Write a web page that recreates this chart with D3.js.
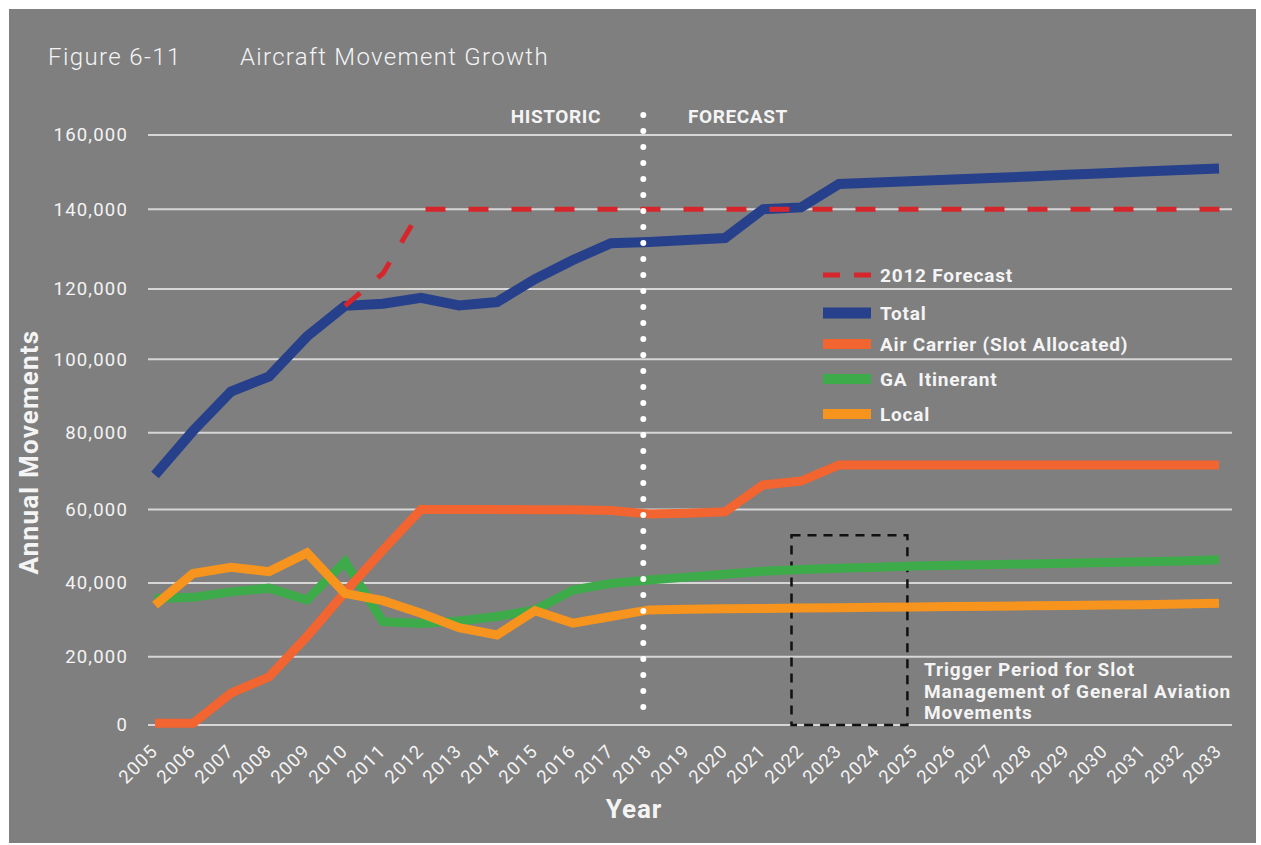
<!DOCTYPE html>
<html>
<head>
<meta charset="utf-8">
<title>Aircraft Movement Growth</title>
<script src="https://cdn.jsdelivr.net/npm/d3@7"></script>
<style>
  body { margin: 0; background: #ffffff; }
  svg text { font-family: Roboto, "Noto Sans", sans-serif; fill: #f4f4f4; white-space: pre; }
  .tick-label { font-size: 18.5px; letter-spacing: 1.2px; }
  .legend text { font-size: 19px; font-weight: bold; letter-spacing: 0.8px; }
</style>
</head>
<body>
<div id="chart"></div>
<script>
// ---- data ----
var years = [2005, 2006, 2007, 2008, 2009, 2010, 2011, 2012, 2013, 2014, 2015, 2016, 2017, 2018, 2019,
             2020, 2021, 2022, 2023, 2024, 2025, 2026, 2027, 2028, 2029, 2030, 2031, 2032, 2033];
var total = [69000, 80500, 91200, 95300, 106500, 115200, 115800, 117500, 115300, 116300, 122500, 127300, 131500, 131800, 132300,
             132800, 140000, 140500, 146800, 147200, 147600, 148000, 148400, 148800, 149300, 149700, 150200, 150600, 151000];
var airCarrier = [500, 500, 9300, 14100, 25500, 37500, 49000, 60000, 60000, 60000, 59900, 59900, 59700, 58800, 59000,
                  59400, 66400, 67400, 71600, 71600, 71600, 71600, 71600, 71600, 71600, 71600, 71600, 71600, 71600];
var gaItinerant = [35800, 36100, 37600, 38600, 35400, 45800, 29500, 29000, 29700, 30900, 32700, 38100, 39900, 40800, 41600,
                   42400, 43200, 43700, 44000, 44300, 44600, 44800, 45000, 45200, 45400, 45600, 45800, 46000, 46300];
var local = [34000, 42600, 44300, 43100, 48200, 37200, 35200, 31800, 27900, 25900, 32500, 29100, 30900, 32700, 32900,
             33000, 33100, 33200, 33300, 33400, 33500, 33600, 33700, 33800, 33900, 34000, 34100, 34300, 34500];
var forecastYears = [2010, 2011, 2012, 2033.45];
var forecast = [115200, 123900, 140000, 140000];
var yTicks = [0, 20000, 40000, 60000, 80000, 100000, 120000, 140000, 160000];
var dividerYear = 2017.85;
var triggerYears = [2021.75, 2024.8];
var triggerTop = 53000;

var seriesNames = ["2012 Forecast", "Total", "Air Carrier (Slot Allocated)", "GA  Itinerant", "Local"];
var seriesColors = ["#d7262b", "#27408b", "#f26430", "#3dab4a", "#f7941d"];

// ---- layout ----
var W = 1261, H = 845;
var svg = d3.select("#chart").append("svg")
    .attr("width", W)
    .attr("height", H);

svg.append("rect")
    .attr("x", 9).attr("y", 9)
    .attr("width", 1247).attr("height", 834)
    .attr("fill", "#7f7f7f");

var x = d3.scaleLinear().domain([2005, 2033]).range([155, 1219]);
// gridlines in the source are not quite evenly spaced, so map each tick to its row
var y = d3.scaleLinear().domain(yTicks)
    .range([725, 656.7, 583, 509.5, 432.7, 359.3, 289, 209.3, 135]);

var gridLeft = 148, gridRight = 1232;

// gridlines
svg.append("g").selectAll("line")
    .data(yTicks)
    .enter().append("line")
    .attr("x1", gridLeft).attr("x2", gridRight)
    .attr("y1", function (d) { return y(d); })
    .attr("y2", function (d) { return y(d); })
    .attr("stroke", "#d6d6d6")
    .attr("stroke-width", 2);

// y tick labels
svg.append("g").selectAll("text")
    .data(yTicks)
    .enter().append("text")
    .attr("class", "tick-label")
    .attr("x", 128)
    .attr("y", function (d) { return y(d); })
    .attr("dy", "0.35em")
    .attr("text-anchor", "end")
    .text(function (d) { return d3.format(",")(d); });

// x tick labels, rotated
svg.append("g").selectAll("text")
    .data(years)
    .enter().append("text")
    .attr("class", "tick-label")
    .attr("text-anchor", "end")
    .attr("transform", function (d) { return "translate(" + (x(d) + 4) + ",752) rotate(-45)"; })
    .text(function (d) { return d; });

// axis titles
svg.append("text")
    .attr("x", 634).attr("y", 818)
    .attr("text-anchor", "middle")
    .attr("font-size", 26).attr("font-weight", "bold")
    .attr("letter-spacing", 1)
    .text("Year");

svg.append("text")
    .attr("transform", "translate(38,452) rotate(-90)")
    .attr("text-anchor", "middle")
    .attr("font-size", 26).attr("font-weight", "bold")
    .attr("letter-spacing", 1.2)
    .text("Annual Movements");

// title
svg.append("text")
    .attr("x", 48).attr("y", 65)
    .attr("font-size", 24)
    .attr("font-weight", 300)
    .attr("letter-spacing", 1.4)
    .text("Figure 6-11");
svg.append("text")
    .attr("x", 240).attr("y", 65)
    .attr("font-size", 24)
    .attr("font-weight", 300)
    .attr("letter-spacing", 1.3)
    .text("Aircraft Movement Growth");

// trigger period box
svg.append("rect")
    .attr("x", x(triggerYears[0]))
    .attr("y", y(triggerTop))
    .attr("width", x(triggerYears[1]) - x(triggerYears[0]))
    .attr("height", y(0) - y(triggerTop))
    .attr("fill", "none")
    .attr("stroke", "#111")
    .attr("stroke-width", 2.5)
    .attr("stroke-dasharray", "9,7");

var trig = svg.append("text")
    .attr("x", 924).attr("y", 676)
    .attr("font-size", 19).attr("font-weight", "bold")
    .attr("letter-spacing", 0.9);
["Trigger Period for Slot", "Management of General Aviation", "Movements"].forEach(function (t, i) {
    trig.append("tspan").attr("x", 924).attr("dy", i === 0 ? 0 : 21.5).text(t);
});

// lines
var line = function (vals) {
    return d3.line()
        .x(function (d, i) { return x(years[i]); })
        .y(function (d) { return y(d); })(vals);
};

function drawSeries(vals, color, width) {
    svg.append("path")
        .attr("d", line(vals))
        .attr("fill", "none")
        .attr("stroke", color)
        .attr("stroke-width", width)
        .attr("stroke-linejoin", "miter");
}

drawSeries(gaItinerant, seriesColors[3], 9);
drawSeries(airCarrier, seriesColors[2], 9);
drawSeries(local, seriesColors[4], 9);
drawSeries(total, seriesColors[1], 10);

svg.append("path")
    .attr("d", d3.line()
        .x(function (d, i) { return x(forecastYears[i]); })
        .y(function (d) { return y(d); })(forecast))
    .attr("fill", "none")
    .attr("stroke", seriesColors[0])
    .attr("stroke-width", 5)
    .attr("stroke-dasharray", "20,23");

// historic / forecast divider
svg.append("line")
    .attr("x1", x(dividerYear)).attr("x2", x(dividerYear))
    .attr("y1", 115).attr("y2", 722)
    .attr("stroke", "#ffffff")
    .attr("stroke-width", 6)
    .attr("stroke-linecap", "round")
    .attr("stroke-dasharray", "0,16");

svg.append("text")
    .attr("x", 601).attr("y", 123)
    .attr("text-anchor", "end")
    .attr("font-size", 19).attr("font-weight", "bold")
    .attr("letter-spacing", 0.6)
    .text("HISTORIC");
svg.append("text")
    .attr("x", 688).attr("y", 123)
    .attr("font-size", 19).attr("font-weight", "bold")
    .attr("letter-spacing", 0.6)
    .text("FORECAST");

// legend
var legendY = [275, 313, 344, 379, 414];
var legend = svg.append("g").attr("class", "legend");
seriesNames.forEach(function (name, i) {
    var row = legend.append("g").attr("transform", "translate(0," + legendY[i] + ")");
    row.append("line")
        .attr("x1", 823).attr("x2", 871)
        .attr("stroke", seriesColors[i])
        .attr("stroke-width", i === 0 ? 5 : (i === 1 ? 11 : 10))
        .attr("stroke-dasharray", i === 0 ? "17,14" : null);
    row.append("text")
        .attr("x", 880)
        .attr("dy", "0.35em")
        .text(name);
});
</script>
</body>
</html>
